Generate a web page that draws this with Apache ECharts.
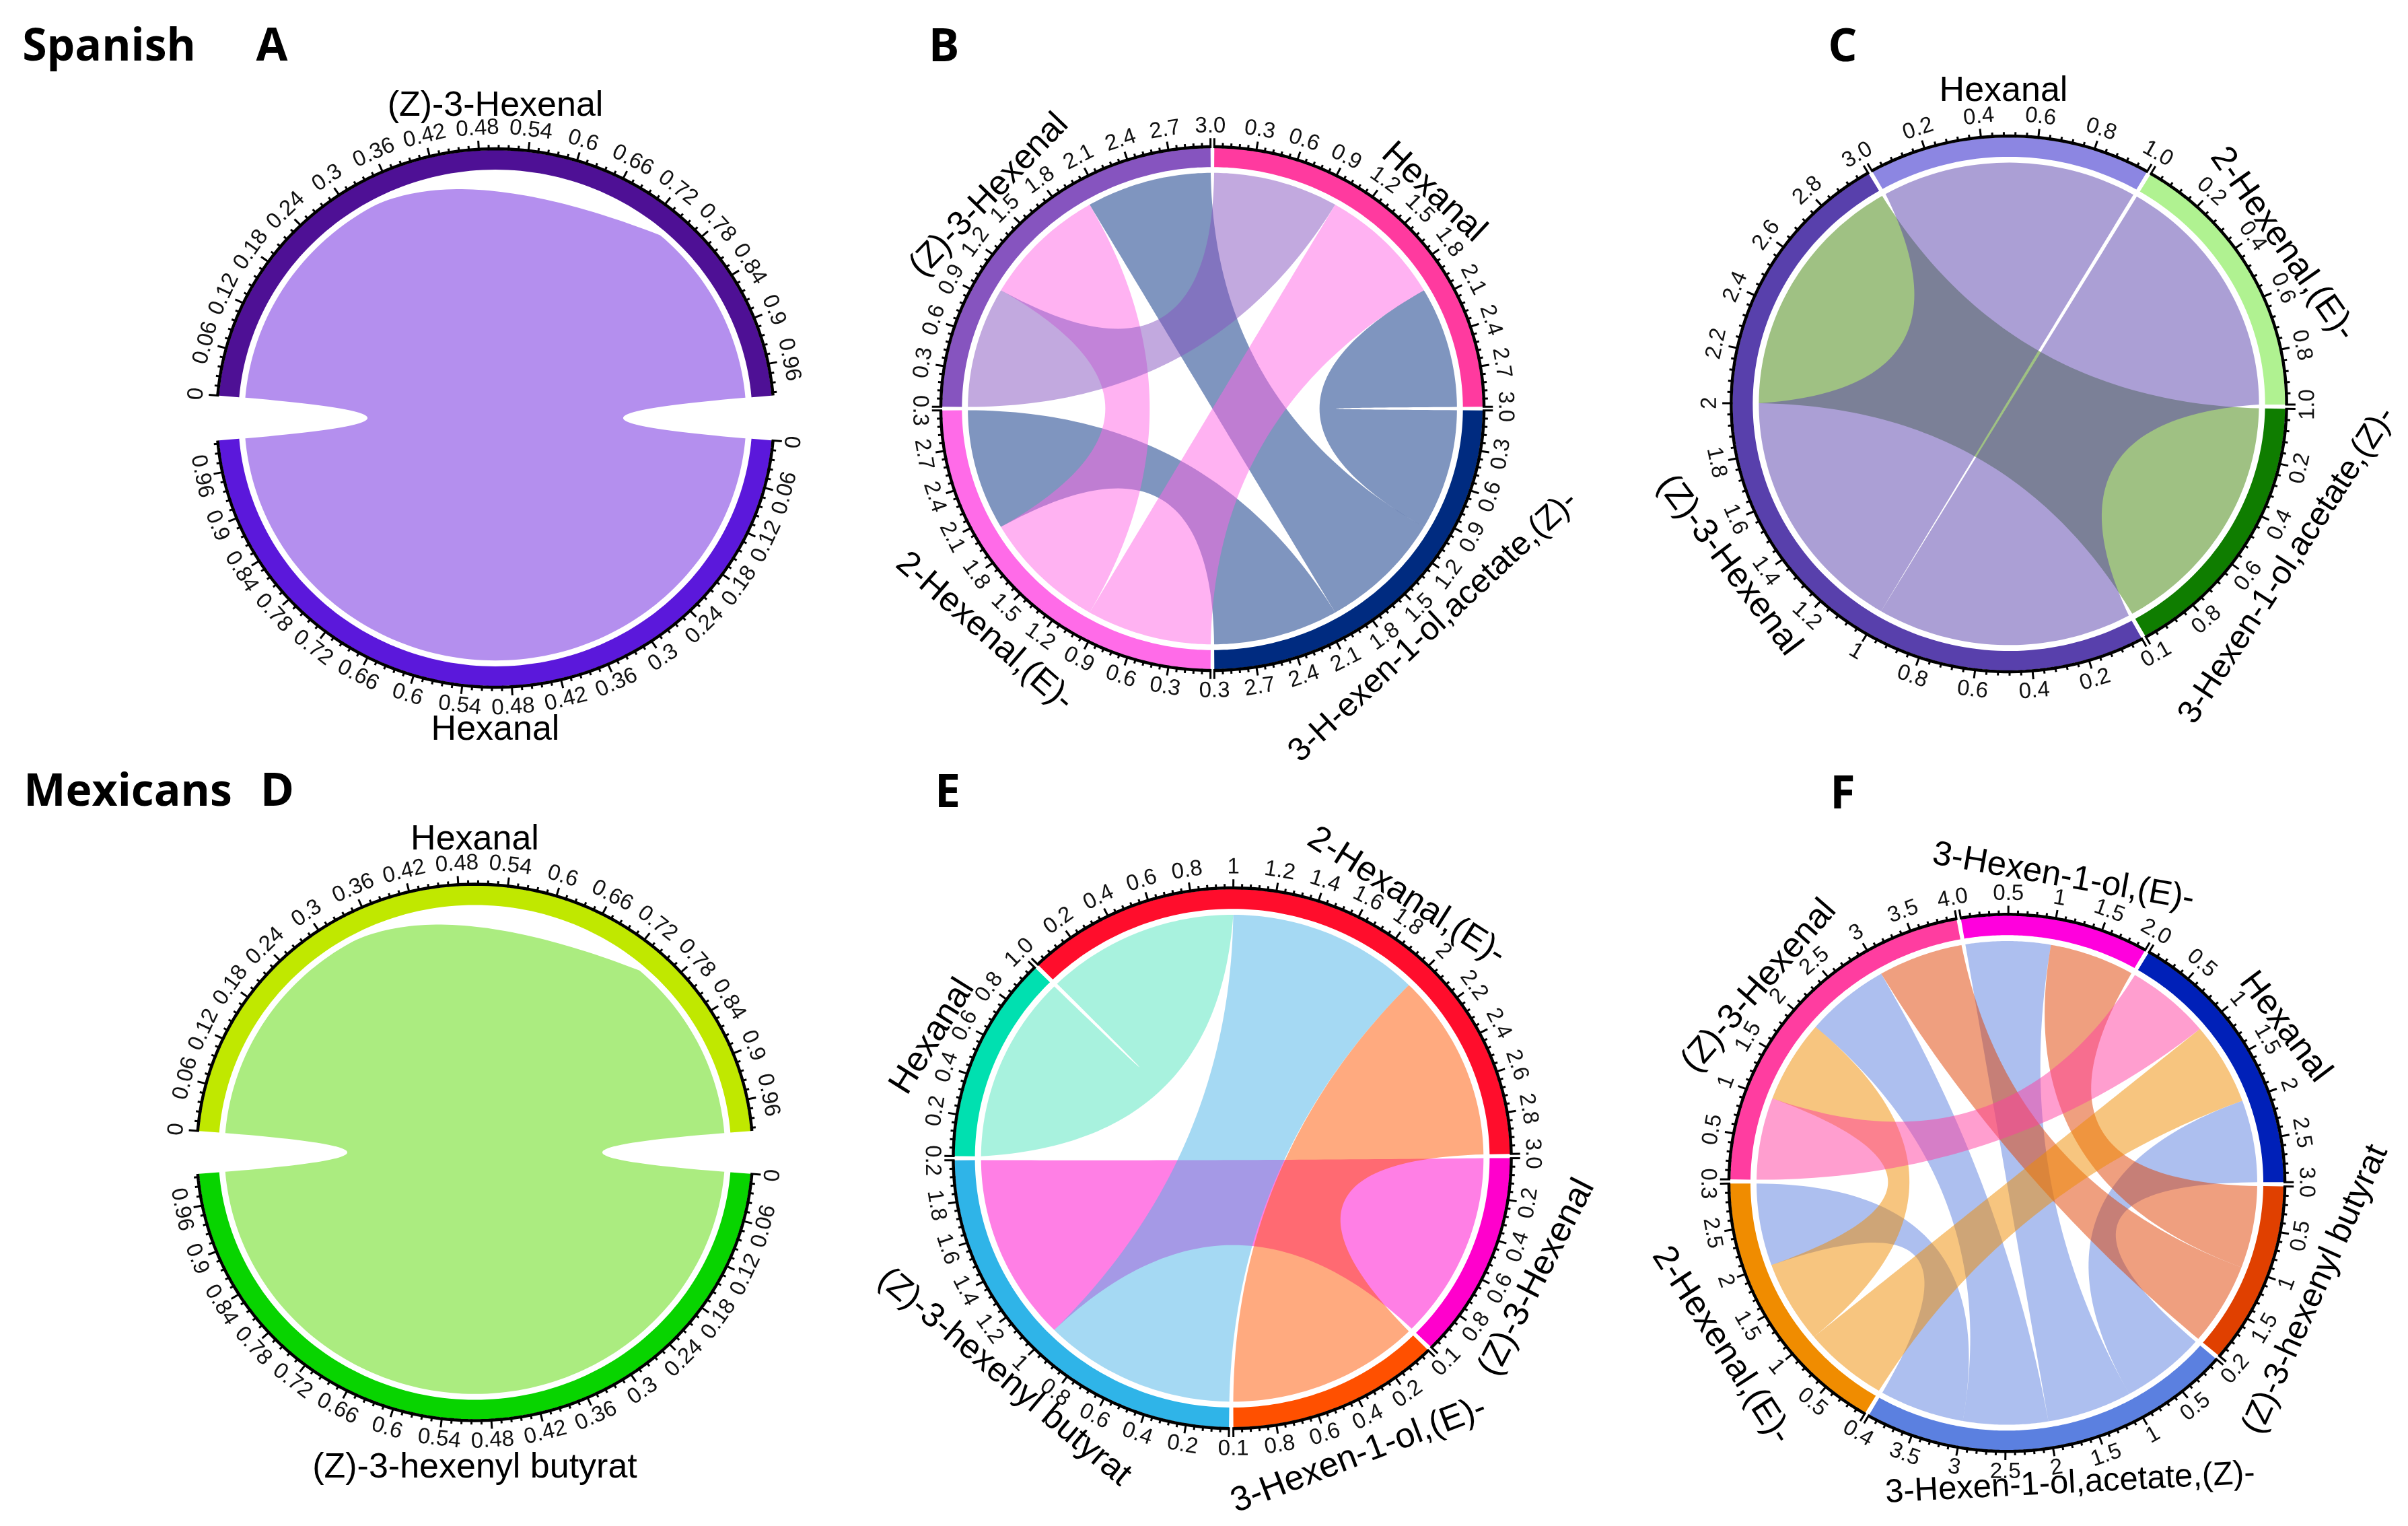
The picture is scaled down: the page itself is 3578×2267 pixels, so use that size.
<!DOCTYPE html>
<html>
<head>
<meta charset="utf-8">
<style>html,body{margin:0;padding:0;background:#fff}#c{width:3578px;height:2267px}</style>
<script src="https://cdn.jsdelivr.net/npm/echarts@6/dist/echarts.min.js"></script>
</head>
<body>
<div id="c"></div>
<script>
// ---------- tick labels ----------
const labels006 = ['0','0.06','0.12','0.18','0.24','0.3','0.36','0.42','0.48','0.54','0.6','0.66','0.72','0.78','0.84','0.9','0.96'];
const labelsB30 = ['','0.3','0.6','0.9','1.2','1.5','1.8','2.1','2.4','2.7','3.0'];
const labelsB03 = ['','0.3','0.6','0.9','1.2','1.5','1.8','2.1','2.4','2.7','0.3'];
const labels10 = ['','0.2','0.4','0.6','0.8','1.0'];
const labels01 = ['','0.2','0.4','0.6','0.8','0.1'];
const labels30 = ['','0.2','0.4','0.6','0.8','1','1.2','1.4','1.6','1.8','2','2.2','2.4','2.6','2.8','3.0'];
const labels02 = ['','0.2','0.4','0.6','0.8','1','1.2','1.4','1.6','1.8','0.2'];
const labelsF_hexenol = ['','0.5','1','1.5','2.0'];
const labelsF_hexanal = ['','0.5','1','1.5','2','2.5','3.0'];
const labelsF_butyrate = ['','0.5','1','1.5','0.2'];
const labelsF_acetate = ['','0.5','1','1.5','2','2.5','3','3.5','0.4'];
const labelsF_hexenal2 = ['','0.5','1','1.5','2','2.5','0.3'];
const labelsF_hexenalZ = ['','0.5','1','1.5','2','2.5','3','3.5','4.0'];

// ---------- sector values: [name, size, major tick step, tick labels, colour] ----------
const sectorsA = [['(Z)-3-Hexenal',1,0.06,labels006,'#4E1095'],['Hexanal',1,0.06,labels006,'#5B18DB']];
const sectorsB = [['Hexanal',3,0.3,labelsB30,'#FF3A9F'],['3-H-exen-1-ol,acetate,(Z)-',3,0.3,labelsB03,'#002B80'],['2-Hexenal,(E)-',3,0.3,labelsB03,'#FF6BE8'],['(Z)-3-Hexenal',3,0.3,labelsB30,'#8654BF']];
const sectorsC = [['Hexanal',1,0.2,labels10,'#8C86E2'],['2-Hexenal,(E)-',1,0.2,labels10,'#B0F291'],['3-Hexen-1-ol,acetate,(Z)-',1,0.2,labels01,'#0F7D00'],['(Z)-3-Hexenal',3,0.2,labels30,'#5840AC']];
const sectorsD = [['Hexanal',1,0.06,labels006,'#C0E800'],['(Z)-3-hexenyl butyrat',1,0.06,labels006,'#08D400']];
const sectorsE = [['Hexanal',1,0.2,labels10,'#00E0B0'],['2-Hexanal,(E)-',3,0.2,labels30,'#FF0D2C'],['(Z)-3-Hexenal',1,0.2,labels01,'#FF00CC'],['3-Hexen-1-ol,(E)-',1,0.2,labels01,'#FF5000'],['(Z)-3-hexenyl butyrat',2,0.2,labels02,'#2FB4E8']];
const sectorsF = [['3-Hexen-1-ol,(E)-',2,0.5,labelsF_hexenol,'#FF00DD'],['Hexanal',3,0.5,labelsF_hexanal,'#0020B8'],['(Z)-3-hexenyl butyrat',2,0.5,labelsF_butyrate,'#E04000'],['3-Hexen-1-ol,acetate,(Z)-',4,0.5,labelsF_acetate,'#5B80E0'],['2-Hexenal,(E)-',3,0.5,labelsF_hexenal2,'#F08C00'],['(Z)-3-Hexenal',4,0.5,labelsF_hexenalZ,'#FF3DA0']];

// ---------- links: [sector a, from, to, sector b, from, to, fill, optional edge bends] ----------
const linksA = [[0,0,1,1,0,1,'#B48FEE',[0.02,0.02]]];
const linksD = [[0,0,1,1,0,1,'#ABEC80',[0.02,0.02]]];
const blueB='rgba(0,43,128,0.5)', pinkB='rgba(255,102,230,0.5)', lavB='rgba(134,84,191,0.5)';
const linksB = [
 [0,2,3,1,0,1,blueB],[3,2,3,1,1,2,blueB],[2,2,3,1,2,3,blueB],
 [0,1,2,2,0,1,pinkB],[3,1,2,2,1,2,pinkB],
 [3,0,1,0,0,1,lavB]];
const violetC='rgba(88,64,172,0.5)';
const linksC = [
 [2,0,1,3,2,3,'#9FC183'],
 [0,0,1,3,1,2,violetC,[0.01,0.116]],
 [1,0,1,3,0,1,violetC,[0.116,0.01]]];
const linksE = [
 [2,0,1,4,1,2,'rgba(255,0,204,0.5)'],
 [0,0,1,1,0,1,'rgba(81,229,189,0.5)',[0.045,0.08]],
 [1,1,2,4,0,1,'rgba(75,179,231,0.5)'],
 [1,2,3,3,0,1,'rgba(255,85,0,0.5)',[0.036,0.01]]];
const blueF='rgba(91,128,224,0.5)', salF='rgba(224,64,0,0.5)', tanF='rgba(240,140,0,0.5)', pinkF='rgba(255,61,160,0.5)';
const linksF = [
 [4,2,3,3,3,4,blueF],[5,2,3,3,2,3,blueF],[0,0,1,3,1,2,blueF],[1,2,3,3,0,1,blueF],
 [5,3,4,2,1,2,salF],[0,1,2,2,0,1,salF],
 [1,1,2,4,0,1,tanF],[5,1,2,4,1,2,tanF],
 [1,0,1,5,0,1,pinkF]];
// white lens at the top of the two-sector panels: [sector, from, to, control value]
const lensValues = [0,0.741,0.265,0.42];

// ---------- layout (kept apart from the data) ----------
const panels = [
 {id:'A',sec:sectorsA,links:linksA,cx:736,cy:621,rx:412,ry:398,start:175.2,gap:9.6,lens:true},
 {id:'B',sec:sectorsB,links:linksB,cx:1801.5,cy:607,rx:401.5,ry:387,start:89.6,gap:0.8},
 {id:'C',sec:sectorsC,links:linksC,cx:2985,cy:600,rx:410.6,ry:396,start:119.55,gap:0.9},
 {id:'D',sec:sectorsD,links:linksD,cx:705.5,cy:1712,rx:411,ry:396.5,start:175.4,gap:9.2,lens:true},
 {id:'E',sec:sectorsE,links:linksE,cx:1831,cy:1720.6,rx:412.5,ry:399.6,start:179.55,gap:0.9},
 {id:'F',sec:sectorsF,links:linksF,cx:2982,cy:1757.3,rx:411,ry:397,start:99.55,gap:0.9}
];
const texts = [
 ['Spanish',162,71,0,66,1],['A',404,71,0,68,1],['B',1402.5,72,0,68,1],['C',2738,72,0,68,1],
 ['Mexicans',190,1178,0,66,1],['D',412,1178,0,68,1],['E',1408,1180,0,68,1],['F',2738,1182,0,68,1],
 ['(Z)-3-Hexenal',736,158,0,52,0],['Hexanal',736,1085,0,52,0],
 ['(Z)-3-Hexenal',1470,290,46,51,0],['Hexanal',2130,286,-43,52,0],['2-Hexenal,(E)-',1463,939,-41,51,0],['3-H-exen-1-ol,acetate,(Z)-',2130,931,43,49,0],
 ['Hexanal',2977,136,0,52,0],['2-Hexenal,(E)-',3392,363,-55,52,0],['3-Hexen-1-ol,acetate,(Z)-',3399,840,57,49,0],['(Z)-3-Hexenal',2569,840,-53,52,0],
 ['Hexanal',705.5,1248,0,52,0],['(Z)-3-hexenyl butyrat',705.5,2181,0,52,0],
 ['2-Hexanal,(E)-',2090,1332,-32.5,52,0],['Hexanal',1386,1540,58,52,0],['(Z)-3-Hexenal',2284,1898,63,52,0],['3-Hexen-1-ol,(E)-',2019,2162,21,52,0],['(Z)-3-hexenyl butyrat',1492,2046,-40,51,0],
 ['3-Hexen-1-ol,(E)-',3066,1303,-10,51,0],['(Z)-3-Hexenal',2614,1465,49,52,0],['Hexanal',3395,1526,-53,52,0],['(Z)-3-hexenyl butyrat',3441,1916,66,50,0],['3-Hexen-1-ol,acetate,(Z)-',3076,2204,3,49,0],['2-Hexenal,(E)-',2558,1999,-57,52,0]
];
const EXT = 1.25, R_LINK = 0.905, R_RING = 0.927, DEFAULT_BEND = 0.01;
const TICK_MAJOR = 15, TICK_MINOR = 8, LABEL_GAP = 33, TICK_FONT = '33px "Liberation Sans", Arial, sans-serif';
const rad = d => d * Math.PI / 180;

function buildPanel(p) {
  const total = p.sec.reduce((s, q) => s + q[1], 0);
  const unit = (360 - p.sec.length * p.gap) / total;
  let t = p.start;
  p.starts = p.sec.map(q => { const s = t; t -= q[1] * unit + p.gap; return s; });
  p.theta = (i, v) => p.starts[i] - v * unit;
  p.pt = (r, th) => [r * Math.cos(rad(th)), r * Math.sin(rad(th))];
}
function arc(p, i, v0, v1, r) {
  const out = [], n = Math.max(2, Math.ceil(Math.abs(v1 - v0) * 40 * (p.sec.length > 2 ? 1 : 3)));
  for (let k = 0; k <= n; k++) out.push(p.pt(r, p.theta(i, v0 + (v1 - v0) * k / n)));
  return out;
}
function quad(a, b, c, n) {
  const out = [];
  for (let k = 1; k < n; k++) {
    const s = k / n, u = 1 - s;
    out.push([u*u*a[0] + 2*u*s*c[0] + s*s*b[0], u*u*a[1] + 2*u*s*c[1] + s*s*b[1]]);
  }
  return out;
}
function edge(a, b, bend) {
  const mx = a[0] + b[0], my = a[1] + b[1], m = Math.hypot(mx, my);
  const c = m < 1e-6 ? [0, 0] : [bend * mx / m, bend * my / m];
  return quad(a, b, c, 60);
}
function linkPath(p, l) {
  const bends = l[7] || [DEFAULT_BEND, DEFAULT_BEND];
  const A = arc(p, l[0], l[1], l[2], R_LINK), B = arc(p, l[3], l[4], l[5], R_LINK);
  return A.concat(edge(A[A.length - 1], B[0], bends[0]), B, edge(B[B.length - 1], A[0], bends[1]));
}
function lensPath(p) {
  const [i, v0, v1, vc] = lensValues;
  const a = p.pt(R_LINK, p.theta(i, v0)), b = p.pt(R_LINK, p.theta(i, v1));
  const c = p.pt(1.05, p.theta(i, vc));
  const top = arc(p, i, v1, v0, 0.92);
  return [a].concat(quad(a, b, c, 60), [b], top);
}

const series = [], grid = [], xAxis = [], yAxis = [];
panels.forEach((p, idx) => {
  buildPanel(p);
  grid.push({left: p.cx - p.rx * EXT, top: p.cy - p.ry * EXT, width: 2 * p.rx * EXT, height: 2 * p.ry * EXT, containLabel: false, show: false});
  xAxis.push({type: 'value', gridIndex: idx, min: -EXT, max: EXT, show: false});
  yAxis.push({type: 'value', gridIndex: idx, min: -EXT, max: EXT, show: false});
  const base = {type: 'custom', coordinateSystem: 'cartesian2d', xAxisIndex: idx, yAxisIndex: idx, silent: true, animation: false, clip: false, encode: {x: 0, y: 1}};
  const mean = (p.rx + p.ry) / 2;

  // ribbons
  const linkItems = p.links.map(l => ({path: linkPath(p, l), fill: l[6]}));
  if (p.lens) linkItems.push({path: lensPath(p), fill: '#ffffff'});
  series.push(Object.assign({}, base, {
    name: 'links ' + p.id, z: 2,
    data: linkItems.map(() => [0, 0]),
    renderItem(params, api) {
      const it = linkItems[params.dataIndex];
      return {type: 'polygon', shape: {points: it.path.map(q => api.coord(q))}, style: {fill: it.fill, stroke: null}};
    }
  }));

  // sector rings, axis line, ticks, tick labels
  series.push(Object.assign({}, base, {
    name: 'sectors ' + p.id, z: 3,
    data: p.sec.map(() => [0, 0]),
    renderItem(params, api) {
      const i = params.dataIndex, s = p.sec[i], size = s[1], step = s[2], lab = s[3];
      const kids = [];
      const ring = arc(p, i, 0, size, 1).concat(arc(p, i, size, 0, R_RING));
      kids.push({type: 'polygon', shape: {points: ring.map(q => api.coord(q))}, style: {fill: s[4]}});
      kids.push({type: 'polyline', shape: {points: arc(p, i, 0, size, 1 + 2 / mean).map(q => api.coord(q))}, style: {stroke: '#000', lineWidth: 4.5, fill: null}});
      const minor = step / 5, n = Math.floor(size / minor + 1e-6);
      for (let j = 0; j <= n; j++) {
        const major = j % 5 === 0, v = j * minor, th = p.theta(i, v);
        const a = api.coord(p.pt(1, th)), b = api.coord(p.pt(1 + (major ? TICK_MAJOR : TICK_MINOR) / mean, th));
        kids.push({type: 'line', shape: {x1: a[0], y1: a[1], x2: b[0], y2: b[1]}, style: {stroke: '#000', lineWidth: 3}});
        if (major && lab[j / 5]) {
          const c = api.coord(p.pt(1 + (TICK_MAJOR + LABEL_GAP - 15) / mean, th));
          const norm = ((th % 360) + 360) % 360;
          const rot = norm <= 180 ? norm - 90 : norm - 270;
          kids.push({type: 'text', x: c[0], y: c[1], rotation: rad(rot),
            style: {text: lab[j / 5], font: TICK_FONT, fill: '#111', align: 'center', verticalAlign: 'middle'}});
        }
      }
      return {type: 'group', children: kids};
    }
  }));
});

const chart = echarts.init(document.getElementById('c'), null, {renderer: 'canvas'});
chart.setOption({
  backgroundColor: '#ffffff',
  animation: false,
  grid, xAxis, yAxis, series,
  graphic: {elements: texts.map(t => ({
    type: 'text', x: t[1], y: t[2], rotation: rad(t[3]), silent: true, z: 10,
    style: {text: t[0], align: 'center', verticalAlign: 'middle', fill: '#000',
      font: t[5] ? 'bold ' + t[4] + 'px "Open Sans", sans-serif' : t[4] + 'px "Liberation Sans", Arial, sans-serif'}
  }))}
});
</script>
</body>
</html>
